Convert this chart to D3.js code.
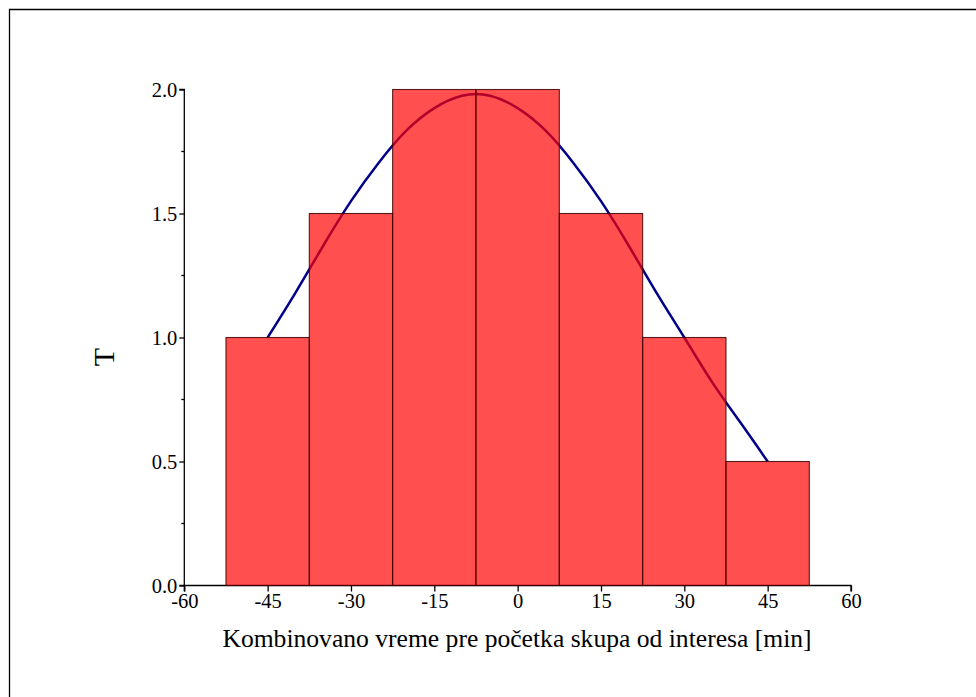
<!DOCTYPE html>
<html>
<head>
<meta charset="utf-8">
<script src="https://cdn.jsdelivr.net/npm/d3@7"></script>
<style>
  html, body { margin: 0; padding: 0; background: #fff; }
  svg { display: block; }
  svg text { font-family: "Liberation Serif", "Times New Roman", "DejaVu Serif", serif !important; fill: #000; }
</style>
</head>
<body>
<svg id="chart" width="976" height="697"></svg>
<script>
// ---- data ----
const binCenters = [-45, -30, -15, 0, 15, 30, 45];
const binCounts  = [1.0, 1.5, 2.0, 2.0, 1.5, 1.0, 0.5];
const binWidth = 15;
const curveX = [-45, -40, -35, -30, -25, -20, -15, -10, -5, 0, 5, 10, 15, 20, 25, 30, 35, 40, 45];
const curveY = [1.00, 1.18, 1.37, 1.55, 1.705, 1.835, 1.925, 1.975, 1.975, 1.925, 1.835, 1.705, 1.55, 1.37, 1.18, 1.00, 0.82, 0.66, 0.50];
const xTicks = [-60, -45, -30, -15, 0, 15, 30, 45, 60];
const yTicks = [0.0, 0.5, 1.0, 1.5, 2.0];
const yMinorTicks = [0.25, 0.75, 1.25, 1.75];
const xLabel = "Kombinovano vreme pre početka skupa od interesa [min]";
const yLabel = "T";

const FONT = '"Liberation Serif", "Times New Roman", "DejaVu Serif", serif';

// ---- layout ----
const svg = d3.select("#chart");
const x = d3.scaleLinear().domain([-60, 60]).range([184.3, 851]);
const y = d3.scaleLinear().domain([0, 2]).range([585.5, 89.5]);

// outer frame (left + top)
svg.append("path")
  .attr("d", "M9.5,697 L9.5,9.5 L976,9.5")
  .attr("fill", "none").attr("stroke", "#000").attr("stroke-width", 1.3);

// axes
const xAxis = d3.axisBottom(x).tickValues(xTicks).tickSize(6).tickPadding(2)
  .tickFormat(d => d3.format("d")(d).replace("−", "-"));
const gx = svg.append("g").attr("transform", `translate(0,${y(0)})`).call(xAxis);
gx.select(".domain").attr("d", `M${x(-60)},6V0H${x(60)}V6`);

const yAxis = d3.axisLeft(y).tickValues(yTicks).tickSize(5).tickPadding(2)
  .tickFormat(d3.format(".1f"));
const gy = svg.append("g").attr("transform", `translate(${x(-60)},0)`).call(yAxis);
gy.select(".domain").attr("d", `M-5,${y(2)}H0V${y(0)}H-5`);
svg.append("g").attr("transform", `translate(${x(-60)},0)`)
  .selectAll("line").data(yMinorTicks).join("line")
  .attr("x1", -3).attr("x2", 0).attr("y1", d => y(d)).attr("y2", d => y(d))
  .attr("stroke", "#000").attr("stroke-width", 1.3);

[gx, gy].forEach(g => {
  g.attr("font-family", FONT);
  g.selectAll(".domain, .tick line").attr("stroke", "#000").attr("stroke-width", 1.3);
  g.selectAll(".tick text").attr("font-family", FONT).style("font-size", "20.5px").attr("fill", "#000");
});

// fitted curve (drawn beneath bars)
const line = d3.line().x((d, i) => x(curveX[i])).y(d => y(d)).curve(d3.curveNatural);
svg.append("path").datum(curveY)
  .attr("d", line)
  .attr("fill", "none").attr("stroke", "#00008B").attr("stroke-width", 2.5);

// bars
svg.append("g").selectAll("rect").data(binCounts).join("rect")
  .attr("x", (d, i) => x(binCenters[i] - binWidth / 2))
  .attr("width", (d, i) => x(binCenters[i] + binWidth / 2) - x(binCenters[i] - binWidth / 2))
  .attr("y", d => y(d))
  .attr("height", d => y(0) - y(d))
  .attr("fill", "rgba(255,0,0,0.69)")
  .attr("stroke", "rgba(60,0,0,0.85)").attr("stroke-width", 1.1);

// labels
svg.append("text").attr("x", 517).attr("y", 647).attr("text-anchor", "middle")
  .attr("font-family", FONT).style("font-size", "25.6px").text(xLabel);
svg.append("text").attr("transform", "translate(114,357) rotate(-90)").attr("text-anchor", "middle")
  .attr("font-family", FONT).style("font-size", "30px").text(yLabel);
</script>
</body>
</html>
